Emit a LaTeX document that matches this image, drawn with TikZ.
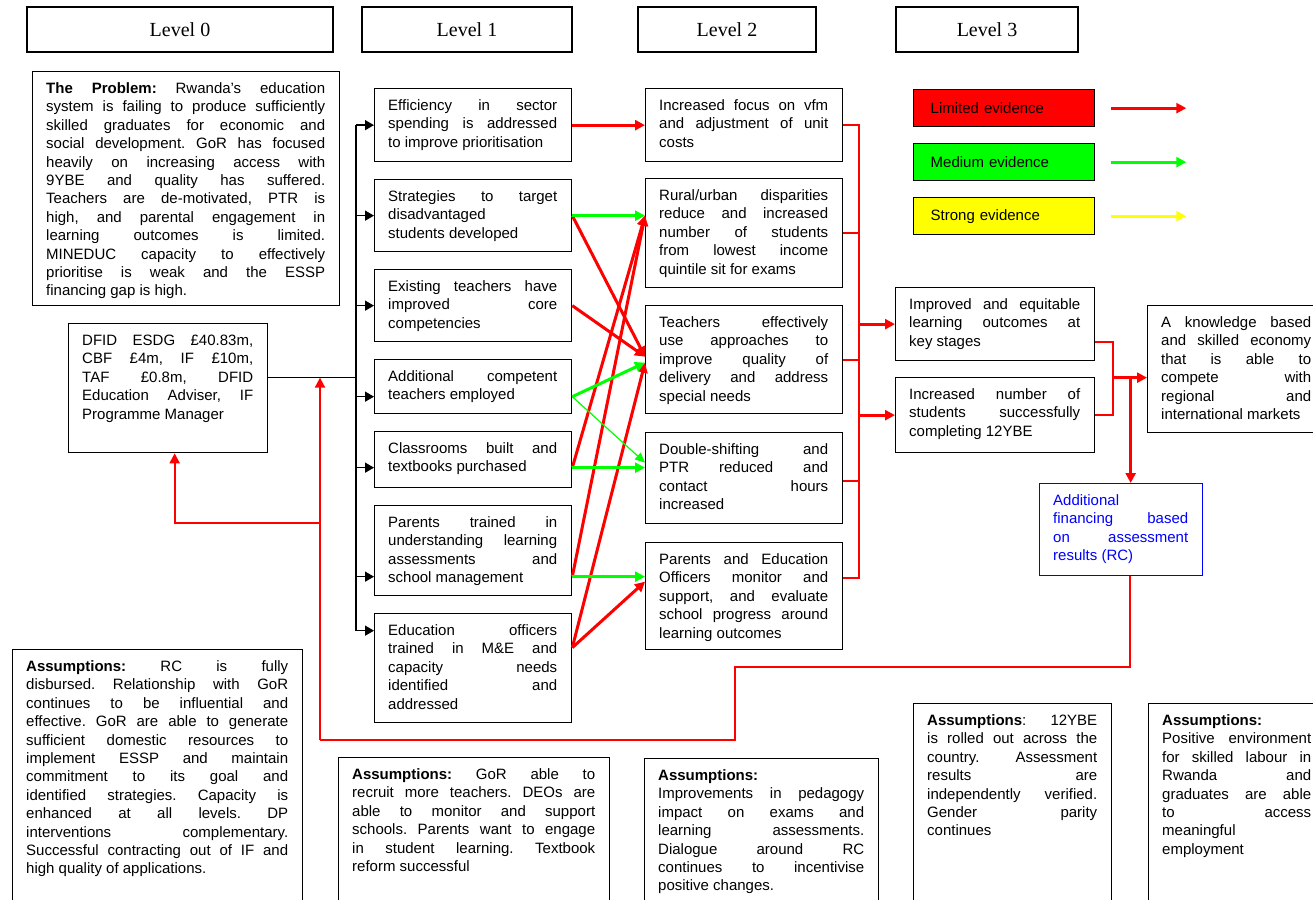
\documentclass[tikz,border=0pt]{standalone}
\usepackage{fontspec}
\setmainfont{Liberation Sans}
\newfontfamily\hdfont{Liberation Serif}
\usetikzlibrary{arrows.meta,calc}
\definecolor{rd}{RGB}{255,0,0}
\definecolor{gn}{RGB}{0,255,0}
\definecolor{yw}{RGB}{255,255,0}
\definecolor{bu}{RGB}{0,0,255}
\newcommand\bodyfont{\fontsize{15}{18.4}\selectfont\frenchspacing\hyphenpenalty=10000 \exhyphenpenalty=10000 \tolerance=10000 }
% #1 extra box style, #2 name, #3 x1, #4 y1, #5 x2, #6 y2, #7 text
\newcommand\nbox[7][]{%
  \pgfmathsetmacro\bw{#5-#3}\pgfmathsetmacro\bh{#6-#4}\pgfmathsetmacro\tw{#5-#3-28}%
  \node[box,minimum width=\bw pt,minimum height=\bh pt,#1] (#2) at (#3,#4) {};
  \node[txt,text width=\tw pt] (#2t) at ([xshift=14pt,yshift=-9.5pt]#2.north west) {\strut #7};
}
\begin{document}
\begin{tikzpicture}[x=1pt,y=-1pt,
  box/.style={draw=black,line width=1.3pt,inner sep=0pt,anchor=north west},
  txt/.style={inner sep=0pt,anchor=north west,align=justify,font=\bodyfont},
  hdr/.style={draw=black,line width=1.3pt,inner sep=0pt,font=\hdfont\fontsize{20}{24}\selectfont},
  leg/.style={draw=black,line width=1.3pt,inner sep=0pt,anchor=north west,minimum width=181pt,minimum height=37pt,text width=147pt,align=left,font=\fontsize{15}{18}\selectfont},
  rarr/.style={draw=rd,line width=3pt,-{Triangle[length=10pt,width=10pt]}},
  garr/.style={draw=gn,line width=3pt,-{Triangle[length=10pt,width=10pt]}},
  gthin/.style={draw=gn,line width=1.2pt,-{Triangle[length=10pt,width=9pt]}},
  yarr/.style={draw=yw,line width=3pt,-{Triangle[length=10pt,width=10pt]}},
  redthin/.style={color=rd,line width=2pt},
  fb/.style={color=rd,line width=2pt},
  fbarr/.style={color=rd,line width=2pt,-{Triangle[length=10pt,width=10pt]}},
  barr/.style={draw=black,line width=1.5pt,-{Triangle[length=9pt,width=10pt]}},
  bline/.style={draw=black,line width=1.5pt}
]
\useasboundingbox (0,0) rectangle (1313,899);

% headers
\node[hdr,minimum width=306pt,minimum height=45pt] (H0) at (180,29.5) {Level 0};
\node[hdr,minimum width=210pt,minimum height=45pt] (H1) at (467,29.5) {Level 1};
\node[hdr,minimum width=178pt,minimum height=45pt] (H2) at (727,29.5) {Level 2};
\node[hdr,minimum width=182pt,minimum height=45pt] (H3) at (987,29.5) {Level 3};

% level 0
\nbox{Prob}{32}{71}{339}{305}{\textbf{The Problem:} Rwanda's education\linebreak system is failing to produce sufficiently\linebreak skilled graduates for economic and\linebreak social development. GoR has focused\linebreak heavily on increasing access with\linebreak 9YBE and quality has suffered.\linebreak Teachers are de-motivated, PTR is\linebreak high, and parental engagement in\linebreak learning outcomes is limited.\linebreak MINEDUC capacity to effectively\linebreak prioritise is weak and the ESSP\linebreak financing gap is high.}
\nbox{DFID}{68}{323}{267}{452}{DFID ESDG £40.83m,\linebreak CBF £4m, IF £10m,\linebreak TAF £0.8m, DFID\linebreak Education Adviser, IF\linebreak Programme Manager}

% level 1
\nbox{E1}{374}{88}{571}{161}{Efficiency in sector\linebreak spending is addressed\linebreak to improve prioritisation}
\nbox{E2}{374}{179}{571}{251}{Strategies to target\linebreak disadvantaged\linebreak students developed}
\nbox{E3}{374}{269}{571}{341}{Existing teachers have\linebreak improved core\linebreak competencies}
\nbox{E4}{374}{359}{571}{413}{Additional competent\linebreak teachers employed}
\nbox{E5}{374}{431}{571}{487}{Classrooms built and\linebreak textbooks purchased}
\nbox{E6}{374}{505}{571}{595}{Parents trained in\linebreak understanding learning\linebreak assessments and\linebreak school management}
\nbox{E7}{374}{613}{571}{722}{Education officers\linebreak trained in M\&E and\linebreak capacity needs\linebreak identified and\linebreak addressed}

% level 2
\nbox{L2a}{645}{88}{842}{161}{Increased focus on vfm\linebreak and adjustment of unit\linebreak costs}
\nbox{Rural}{645}{178}{842}{287}{Rural/urban disparities\linebreak reduce and increased\linebreak number of students\linebreak from lowest income\linebreak quintile sit for exams}
\nbox{Teach}{645}{305}{842}{413}{Teachers effectively\linebreak use approaches to\linebreak improve quality of\linebreak delivery and address\linebreak special needs}
\nbox{Dbl}{645}{432}{842}{523}{Double-shifting and\linebreak PTR reduced and\linebreak contact hours\linebreak increased}
\nbox{PE}{645}{542}{842}{649}{Parents and Education\linebreak Officers monitor and\linebreak support, and evaluate\linebreak school progress around\linebreak learning outcomes}

% level 3
\nbox{Imp}{895}{287}{1094}{360}{Improved and equitable\linebreak learning outcomes at\linebreak key stages}
\nbox{Inc}{895}{377}{1094}{452}{Increased number of\linebreak students successfully\linebreak completing 12YBE}
\nbox{Know}{1147}{305}{1325}{432}{A knowledge based\linebreak and skilled economy\linebreak that is able to\linebreak compete with\linebreak regional and\linebreak international markets}

% blue box
\node[box,draw=bu,minimum width=163pt,minimum height=92pt] (Blue) at (1039,483) {};
\node[txt,text=bu,text width=135pt] (Bluet) at ([xshift=14pt,yshift=-9.5pt]Blue.north west) {\strut Additional\linebreak financing based\linebreak on assessment\linebreak results (RC)};

% legend
\node[leg,fill=rd] (LR) at (913,89) {Limited evidence};
\node[leg,fill=gn] (LG) at (913,143) {Medium evidence};
\node[leg,fill=yw] (LY) at (913,197) {Strong evidence};
\coordinate (lr1) at ([xshift=16pt]LR.east); \coordinate (lr2) at ([xshift=91pt]LR.east);
\coordinate (lg1) at ([xshift=16pt]LG.east); \coordinate (lg2) at ([xshift=91pt]LG.east);
\coordinate (ly1) at ([xshift=16pt]LY.east); \coordinate (ly2) at ([xshift=91pt]LY.east);
\draw[rarr] (lr1) -- (lr2);
\draw[garr] (lg1) -- (lg2);
\draw[yarr] (ly1) -- (ly2);

% assumptions
\nbox{A0}{12}{649}{302}{910}{\textbf{Assumptions:} RC is fully\linebreak disbursed. Relationship with GoR\linebreak continues to be influential and\linebreak effective. GoR are able to generate\linebreak sufficient domestic resources to\linebreak implement ESSP and maintain\linebreak commitment to its goal and\linebreak identified strategies. Capacity is\linebreak enhanced at all levels. DP\linebreak interventions complementary.\linebreak Successful contracting out of IF and\linebreak high quality of applications.}
\nbox{A1}{338}{757}{609}{910}{\textbf{Assumptions:} GoR able to\linebreak recruit more teachers. DEOs are\linebreak able to monitor and support\linebreak schools. Parents want to engage\linebreak in student learning. Textbook\linebreak reform successful}
\nbox{A2}{644}{758}{878}{910}{\textbf{Assumptions:}\linebreak Improvements in pedagogy\linebreak impact on exams and\linebreak learning assessments.\linebreak Dialogue around RC\linebreak continues to incentivise\linebreak positive changes.}
\nbox{A3}{913}{703}{1111}{910}{\textbf{Assumptions}: 12YBE\linebreak is rolled out across the\linebreak country. Assessment\linebreak results are\linebreak independently verified.\linebreak Gender parity\linebreak continues}
\nbox{A4}{1148}{703}{1325}{910}{\textbf{Assumptions:}\linebreak Positive environment\linebreak for skilled labour in\linebreak Rwanda and\linebreak graduates are able\linebreak to access\linebreak meaningful\linebreak employment}

% ports level 1
\coordinate (e1o) at (E1.east);
\coordinate (e2o) at (E2.east);
\coordinate (e3o) at (E3.east);
\coordinate (e4o) at ([yshift=-10pt]E4.east);
\coordinate (e5o) at ([yshift=-8pt]E5.east);
\coordinate (e6o) at ([yshift=-26pt]E6.east);
\coordinate (e7o) at ([yshift=20.5pt]E7.east);
\coordinate (e1i) at (E1.west);
\coordinate (e2i) at (E2.west);
\coordinate (e3i) at (E3.west);
\coordinate (e4i) at ([yshift=-10pt]E4.west);
\coordinate (e5i) at ([yshift=-8pt]E5.west);
\coordinate (e6i) at ([yshift=-26pt]E6.west);
\coordinate (e7i) at ([yshift=37.5pt]E7.west);
% ports level 2
\coordinate (ri) at ([yshift=17.5pt]Rural.west);
\coordinate (ti1) at ([yshift=3pt]Teach.west);
\coordinate (ti2) at ([yshift=-3pt]Teach.west);
\coordinate (di1) at ([yshift=10.5pt]Dbl.west);
\coordinate (di2) at ([yshift=15.5pt]Dbl.west);
\coordinate (pi1) at ([yshift=19.5pt]PE.west);
\coordinate (pi2) at ([yshift=14.5pt]PE.west);

% bus
\coordinate (dport) at ([yshift=10.5pt]DFID.east);
\coordinate (bus) at ([xshift=-18pt]E1.west);
\draw[bline] (e1i -| bus) -- (e7i -| bus);
\draw[bline] (dport) -- (dport -| bus);
\foreach \p in {e1i,e2i,e3i,e4i,e5i,e6i,e7i}{\draw[barr] (\p -| bus) -- (\p);}

% level1 -> level2 (red first)
\draw[rarr] (e1o) -- (L2a.west);
\draw[rarr] (e2o) -- (ti1);
\draw[rarr] (e3o) -- (ti1);
\draw[rarr] (e5o) -- (ri);
\draw[rarr] (e6o) -- (ri);
\draw[rarr] (e7o) -- (ti2);
\draw[rarr] (e7o) -- (pi2);
\draw[garr] (e2o) -- (ri);
\draw[garr] (e4o) -- (ti2);
\draw[gthin] (e4o) -- (di2);
\draw[garr] (e5o) -- (di1);
\draw[garr] (e6o) -- (pi1);

% bracket level2 -> level3
\coordinate (br) at ([xshift=16pt]L2a.east);
\coordinate (peo) at ([yshift=18.5pt]PE.east);
\draw[redthin] (L2a.east) -- (br) -- (peo -| br) -- (peo);
\draw[redthin] (Rural.east) -- (Rural.east -| br);
\draw[redthin] (Teach.east) -- (Teach.east -| br);
\draw[redthin] ([yshift=-2.5pt]Dbl.east) -- ([yshift=-2.5pt]Dbl.east -| br);
\draw[rarr] (Imp.west -| br) -- (Imp.west);
\draw[rarr] (Inc.west -| br) -- (Inc.west);

% bracket level3 -> level4
\coordinate (impo) at ([yshift=-17.5pt]Imp.east);
\coordinate (br2) at ([xshift=18pt]impo);
\coordinate (knowi) at ([yshift=-8.5pt]Know.west);
\coordinate (bluei) at ([xshift=9.5pt]Blue.north);
\draw[redthin] (impo) -- (br2) -- (Inc.east -| br2) -- (Inc.east);
\draw[rarr] (knowi -| br2) -- (knowi);
\draw[rarr] (knowi -| bluei) -- (bluei);

% feedback loop
\coordinate (fb0) at ([xshift=8.5pt]Blue.south);
\coordinate (fbA) at (735,667);
\coordinate (fbB) at (320,740);
\coordinate (fbC) at (320,523);
\coordinate (dfb) at ([xshift=6.5pt]DFID.south);
\draw[fb] (fb0) |- (fbA) |- (fbB);
\draw[fbarr] (fbB) -- (fbB |- dport);
\draw[fbarr] (fbC) -| (dfb);
\end{tikzpicture}
\end{document}
